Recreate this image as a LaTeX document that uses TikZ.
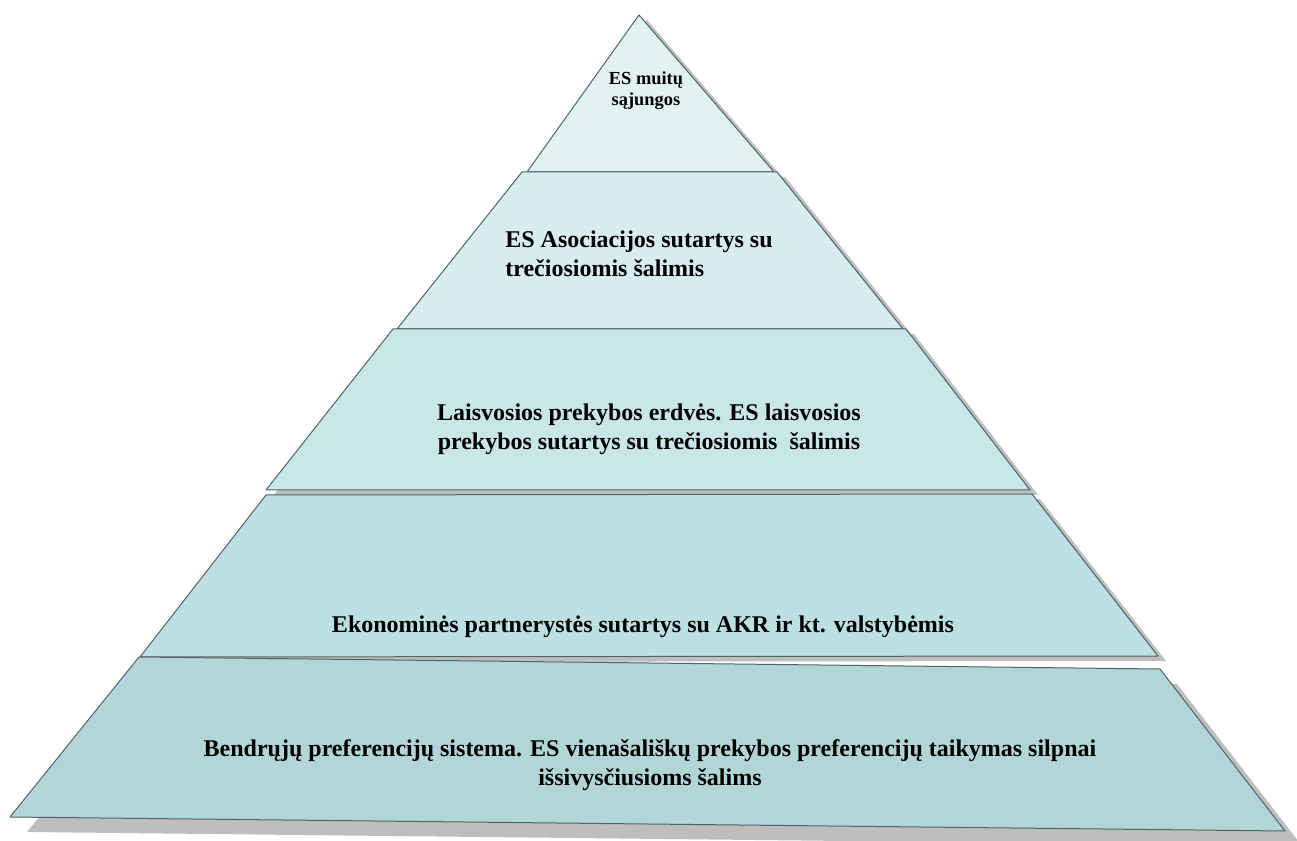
\documentclass[tikz,border=0pt]{standalone}
\usepackage{fontspec}
\setmainfont{Liberation Serif}
\definecolor{edge}{HTML}{4F6468}
\definecolor{shadowgray}{HTML}{BEBEBE}
\definecolor{lvlone}{HTML}{E2F2F3}
\definecolor{lvltwo}{HTML}{D7EDEF}
\definecolor{lvlthree}{HTML}{C9E6E8}
\definecolor{lvlfour}{HTML}{BCE0E3}
\definecolor{lvlfive}{HTML}{B2D5D7}
\tikzset{layer/.style={draw=edge,line width=0.75pt,line join=round}}
\tikzset{shade/.style={fill=shadowgray,draw=none}}
\tikzset{layertext/.style={font=\bfseries\fontsize{18}{21.5}\selectfont,align=center,inner sep=0pt}}
\tikzset{toptext/.style={layertext,font=\bfseries\fontsize{13.8}{15.8}\selectfont}}

\begin{document}
\begin{tikzpicture}[x=0.75pt,y=-0.75pt]
		\useasboundingbox (0,0) rectangle (1297,841);

		% shadows
		\fill[shade,shift={(8,5)}] (639,15) -- (774,172) -- (527,172) -- cycle;
		\fill[shade,shift={(8,5)}] (522,172) -- (777,172) -- (903,329) -- (397,329) -- cycle;
		\fill[shade,shift={(8,5)}] (393,329) -- (906,329) -- (1030,490) -- (266,490) -- cycle;
		\fill[shade,shift={(8,5)}] (266,495) -- (1032,494) -- (1158,656) -- (140,657) -- cycle;
		\fill[shade,shift={(17,15)}] (139,657) -- (1160,669) -- (1285,831) -- (10,817) -- cycle;

		% layers
		\filldraw[layer,fill=lvlone] (639,15) -- (774,172) -- (527,172) -- cycle;
		\filldraw[layer,fill=lvltwo] (522,172) -- (777,172) -- (903,329) -- (397,329) -- cycle;
		\filldraw[layer,fill=lvlthree] (393,329) -- (906,329) -- (1030,490) -- (266,490) -- cycle;
		\filldraw[layer,fill=lvlfour] (266,495) -- (1032,494) -- (1158,656) -- (140,657) -- cycle;
		\filldraw[layer,fill=lvlfive] (139,657) -- (1160,669) -- (1285,831) -- (10,817) -- cycle;

		\node[toptext](t1) at (646,91){ES muitų\\sąjungos};
		\node[layertext,align=left](t2) at (639,254){ES Asociacijos sutartys su\\trečiosiomis šalimis};
		\node[layertext](t3) at (649,429){Laisvosios prekybos erdvės. ES laisvosios\\prekybos sutartys su trečiosiomis\ \ šalimis};
		\node[layertext](t4) at (643,627){Ekonominės partnerystės sutartys su AKR ir kt. valstybėmis};
		\node[layertext](t5) at (650,765){Bendrųjų preferencijų sistema. ES vienašališkų prekybos preferencijų taikymas silpnai\\išsivysčiusioms šalims};
	\end{tikzpicture}
\end{document}
